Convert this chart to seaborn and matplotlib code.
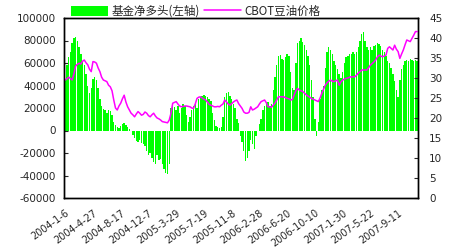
import numpy as np
import pandas as pd
import matplotlib
matplotlib.use("Agg")
import matplotlib.pyplot as plt
import seaborn as sns
from matplotlib.patches import Patch
from matplotlib.lines import Line2D

# ---- data ----
start_date = "2004-01-06"
n_weeks = 204
tick_step = 16

fund_net_long = [
    46, 58, 65, 70, 78, 82, 83, 80, 74, 68, 62, 58, 50, 40, 33, 38, 46, 48, 45, 38,
    28, 22, 19, 18, 16, 18, 17, 14, 8, 5, 3, 2, 4, 6, 7, 5, 3, 1, 0, -4,
    -7, -9, -10, -8, -11, -12, -14, -18, -22, -20, -24, -28, -30, -22, -26, -25, -30, -34, -38, -39,
    -30, 20, 24, 21, 18, 22, 16, 20, 24, 22, 14, 8, 12, 18, 22, 24, 20, 28, 30, 31,
    32, 31, 30, 28, 26, 16, 9, 4, 3, 2, 3, 12, 30, 33, 34, 31, 28, 24, 20, 10,
    7, -5, -10, -18, -27, -24, -18, -8, -12, -16, -5, 0, 6, 10, 18, 22, 24, 25, 22, 24,
    36, 48, 58, 66, 67, 64, 63, 65, 68, 66, 52, 38, 36, 60, 78, 80, 82, 79, 76, 72,
    66, 58, 45, 30, 10, -5, 8, 28, 36, 40, 56, 70, 74, 72, 68, 62, 58, 55, 50, 47,
    52, 60, 65, 66, 68, 68, 70, 68, 70, 74, 80, 86, 88, 80, 74, 72, 74, 72, 75, 76,
    78, 77, 75, 72, 70, 66, 62, 60, 56, 50, 44, 36, 30, 45, 55, 58, 62, 63, 62, 64,
    63, 62, 63, 62,
]
fund_net_long = [v * 1000 for v in fund_net_long]

cbot_soyoil = [
    29.5, 29.8, 30.2, 29.9, 29.5, 31.0, 33.0, 33.4, 33.7, 33.5, 34.2, 34.5, 33.8, 33.3, 32.2, 31.6, 34.1, 34.0, 33.7, 32.5,
    31.6, 30.2, 29.5, 29.3, 29.1, 28.2, 27.8, 26.8, 24.5, 22.5, 22.0, 23.0, 23.7, 24.8, 25.7, 24.0, 22.8, 22.0, 21.2, 20.8,
    20.3, 21.0, 21.6, 21.2, 20.7, 20.9, 21.5, 21.2, 20.6, 20.3, 20.8, 21.2, 20.5, 20.0, 19.8, 19.5, 19.1, 19.0, 18.9, 18.8,
    19.5, 21.2, 23.7, 23.9, 24.1, 23.5, 23.0, 22.8, 22.9, 23.0, 23.0, 22.9, 22.8, 22.5, 22.4, 23.5, 24.9, 25.2, 25.3, 25.0,
    24.7, 24.5, 24.0, 23.4, 23.2, 23.0, 22.8, 22.8, 22.9, 22.8, 23.2, 23.5, 24.5, 24.0, 23.5, 23.2, 23.6, 24.0, 24.3, 24.5,
    23.6, 23.0, 22.4, 21.5, 21.2, 21.2, 21.4, 22.8, 22.0, 22.2, 22.5, 22.8, 23.5, 24.1, 24.3, 24.5, 23.8, 22.8, 22.8, 22.7,
    23.2, 23.7, 24.5, 25.3, 25.3, 25.3, 25.3, 25.1, 24.9, 24.8, 24.5, 24.6, 25.7, 26.8, 27.4, 27.0, 26.8, 26.6, 26.2, 25.8,
    25.5, 25.2, 24.9, 24.7, 24.5, 24.3, 24.1, 25.0, 26.2, 27.2, 28.2, 28.8, 29.2, 29.5, 29.2, 29.1, 29.3, 29.5, 28.2, 29.0,
    29.5, 29.7, 29.9, 30.0, 30.2, 30.3, 30.3, 30.3, 30.7, 31.2, 31.6, 32.0, 32.0, 32.0, 32.0, 32.6, 33.2, 33.6, 34.0, 34.5,
    35.2, 35.7, 35.5, 35.3, 35.5, 35.7, 37.4, 37.8, 37.4, 37.0, 38.2, 37.2, 36.6, 34.9, 36.0, 37.0, 38.3, 39.5, 39.3, 39.1,
    39.9, 40.7, 41.6, 41.6,
]

bar_label = "基金净多头(左轴)"
line_label = "CBOT豆油价格"

dates = pd.date_range(start_date, periods=n_weeks, freq="7D")
date_labels = [f"{d.year}-{d.month}-{d.day}" for d in dates]

df = pd.DataFrame({"idx": np.arange(n_weeks), "date": date_labels,
                   "fund": fund_net_long, "price": cbot_soyoil})

# ---- style ----
sns.set_style("white")
plt.rcParams["font.family"] = ["Noto Sans CJK SC", "DejaVu Sans"]

fig = plt.figure(figsize=(4.5, 2.5), dpi=100)
ax = fig.add_axes([0.143, 0.208, 0.786, 0.72])

green = "#00FF00"
magenta = "#FF00FF"

sns.barplot(data=df, x="idx", y="fund", color=green, width=0.8,
            saturation=1, ax=ax, edgecolor="none", linewidth=0)
ax.set_xlim(-0.5, n_weeks - 0.5)
ax.set_ylim(-60000, 100000)
ax.set_yticks(np.arange(-60000, 100001, 20000))
ax.set_yticklabels([str(v) for v in range(-60000, 100001, 20000)], fontsize=7.5,
                   family=["DejaVu Sans"])
ticks = list(range(0, n_weeks, tick_step))
ax.set_xticks(ticks)
ax.set_xticklabels([date_labels[i] for i in ticks], rotation=36, ha="right",
                   rotation_mode="anchor", fontsize=7.0, family=["DejaVu Sans"])
ax.set_xlabel("")
ax.set_ylabel("")

ax2 = ax.twinx()
sns.lineplot(data=df, x="idx", y="price", color=magenta, linewidth=1.1, ax=ax2)
ax2.set_xlim(-0.5, n_weeks - 0.5)
ax2.set_ylim(0, 45)
ax2.set_yticks(np.arange(0, 46, 5))
ax2.set_yticklabels([str(v) for v in range(0, 46, 5)], fontsize=7.5,
                    family=["DejaVu Sans"])
ax2.set_ylabel("")
ax2.set_xlabel("")

for a in (ax, ax2):
    for s in a.spines.values():
        s.set_visible(True)
        s.set_color("black")
        s.set_linewidth(1.0)
    a.grid(False)

ax.tick_params(axis="y", direction="in", length=3, width=0.8, left=True, pad=6)
ax.tick_params(axis="x", length=0, pad=7)
ax2.tick_params(axis="y", direction="in", length=3, width=0.8, right=True, pad=8)

handles = [Patch(facecolor=green, edgecolor="none"),
           Line2D([0], [0], color=magenta, linewidth=1.1)]
fig.legend(handles, [bar_label, line_label], loc="center", ncol=2,
           bbox_to_anchor=(0.435, 0.955), frameon=False, fontsize=8.3,
           handlelength=3.2, handleheight=0.9, columnspacing=0.4,
           handletextpad=0.3, borderpad=0)

fig.savefig("out.png", dpi=100)
